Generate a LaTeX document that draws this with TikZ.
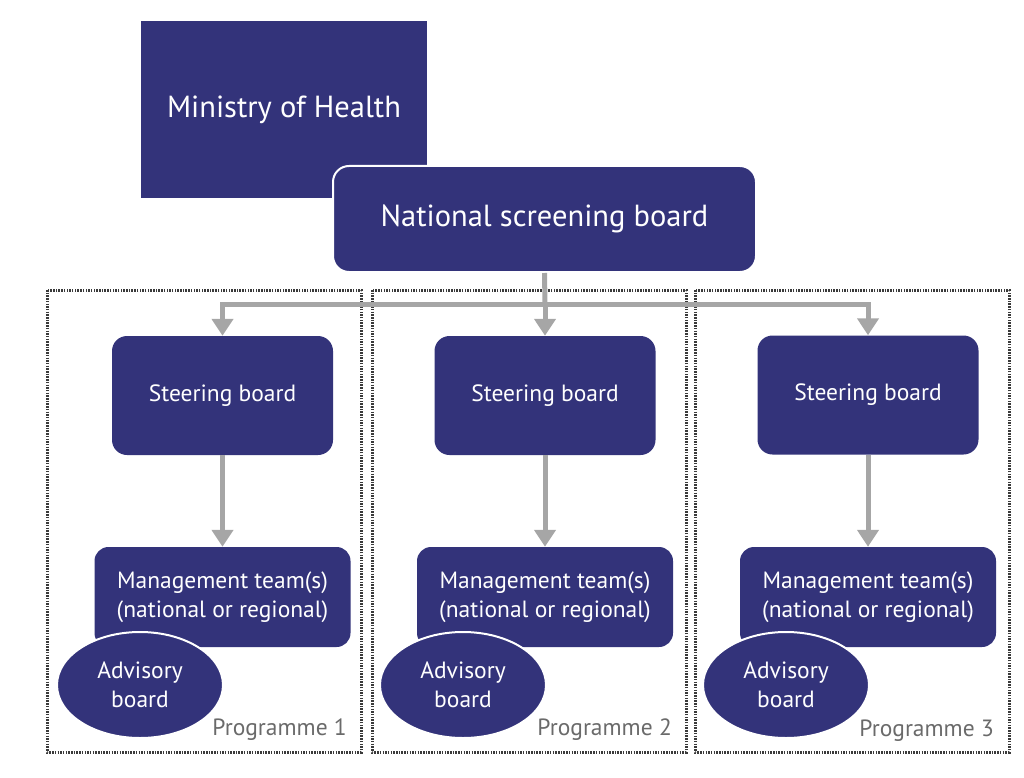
\documentclass[tikz,border=0pt]{standalone}
\usepackage{fontspec}
\setmainfont{PT Sans}
\usetikzlibrary{arrows.meta,shapes.geometric}
\definecolor{navy}{HTML}{33337A}
\definecolor{arrgray}{HTML}{A6A6A6}
\definecolor{framegray}{HTML}{3A3A3A}
\definecolor{labgray}{HTML}{6A6A6A}
\tikzset{
  boxbase/.style={fill=navy, text=white, inner sep=0pt, align=center},
  ministry/.style={boxbase, rectangle, minimum width=286pt, minimum height=177pt, font=\fontsize{30.5}{34}\selectfont},
  nsbbox/.style={boxbase, rectangle, rounded corners=16pt, draw=white, line width=2pt, minimum width=423pt, minimum height=106pt, font=\fontsize{30.5}{34}\selectfont},
  steerbox/.style={boxbase, rectangle, rounded corners=15pt, minimum width=221pt, minimum height=119pt, font=\fontsize{23.5}{27}\selectfont},
  mgmtbox/.style={boxbase, rectangle, rounded corners=14pt, minimum width=256pt, minimum height=100pt, font=\fontsize{23.5}{29}\selectfont},
  advbox/.style={boxbase, ellipse, draw=white, line width=2pt, minimum width=166pt, minimum height=106pt, font=\fontsize{23.5}{29}\selectfont},
  progframe/.style={draw=framegray, line width=3pt, dash pattern=on 1.5pt off 1.2pt},
  proglabel/.style={text=labgray, anchor=base east, inner sep=0pt, font=\fontsize{23.5}{26}\selectfont},
  conn/.style={draw=arrgray, line width=5pt},
  arr/.style={conn, -{Triangle[width=21pt,length=17pt]}},
}
\begin{document}
\begin{tikzpicture}[x=1pt,y=-1pt]
\useasboundingbox (0,0) rectangle (1024,778);
% programme frames
\draw[progframe] (47,290) rectangle (361,752);
\draw[progframe] (372,290) rectangle (686,752);
\draw[progframe] (695,290) rectangle (1009,752);
% top nodes
\node[ministry] (moh) at (284,109.5) {Ministry of Health};
\node[nsbbox] (nsb) at (544.5,219) {National screening board};
% steering boards
\node[steerbox] (sb1) at (222.5,395.5) {Steering board};
\node[steerbox] (sb2) at (545,395.5) {Steering board};
\node[steerbox] (sb3) at (868,395) {Steering board};
% management teams
\node[mgmtbox] (mt1) at (222.5,597) {Management team(s)\\(national or regional)};
\node[mgmtbox] (mt2) at (545,597) {Management team(s)\\(national or regional)};
\node[mgmtbox] (mt3) at (868,597) {Management team(s)\\(national or regional)};
% advisory boards
\node[advbox] (ab1) at (140,685) {Advisory\\board};
\node[advbox] (ab2) at (463,685) {Advisory\\board};
\node[advbox] (ab3) at (786,685) {Advisory\\board};
% labels
\node[proglabel] (pl1) at (347,735) {Programme 1};
\node[proglabel] (pl2) at (672,735) {Programme 2};
\node[proglabel] (pl3) at (994,736) {Programme 3};
% connectors
\coordinate (hub) at (545,304);
\draw[conn] (nsb.south) -- (hub);
\draw[arr] (hub) -| (sb1.north);
\draw[arr] (hub) -- (sb2.north);
\draw[arr] (hub) -| (sb3.north);
\draw[arr] (sb1.south) -- (mt1.north);
\draw[arr] (sb2.south) -- (mt2.north);
\draw[arr] (sb3.south) -- (mt3.north);
\end{tikzpicture}
\end{document}
